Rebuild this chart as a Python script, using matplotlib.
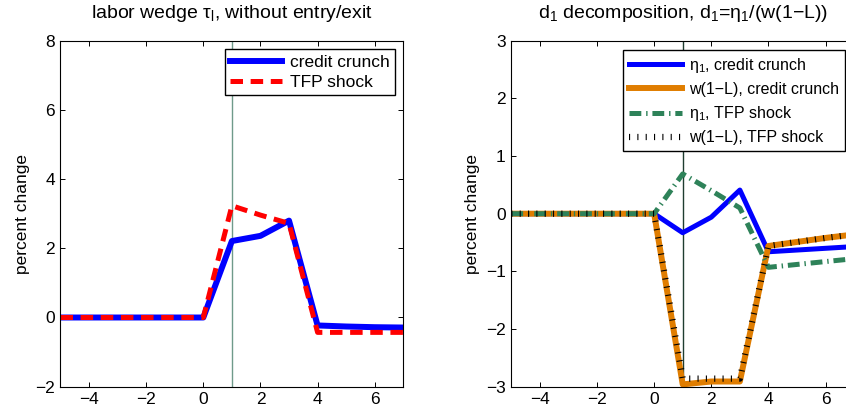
import matplotlib
matplotlib.use('Agg')
import matplotlib.pyplot as plt

plt.rcParams['font.family'] = ['Liberation Sans', 'DejaVu Sans']
plt.rcParams['mathtext.fontset'] = 'custom'
plt.rcParams['mathtext.rm'] = 'Liberation Sans'
plt.rcParams['mathtext.it'] = 'Liberation Sans'
plt.rcParams['mathtext.default'] = 'regular'
plt.rcParams['lines.scale_dashes'] = False

# periods around the shock
t = [-5, -4, -3, -2, -1, 0, 1, 2, 3, 4, 5, 6, 7]

# left panel: labor wedge
tau_cc = [0, 0, 0, 0, 0, 0, 2.21, 2.36, 2.80, -0.23, -0.26, -0.28, -0.29]
tau_tfp = [0, 0, 0, 0, 0, 0, 3.23, 2.96, 2.72, -0.43, -0.43, -0.43, -0.43]

# right panel: d1 decomposition
eta_cc = [0, 0, 0, 0, 0, 0, -0.33, -0.06, 0.41, -0.66, -0.63, -0.60, -0.57]
wl_cc = [0, 0, 0, 0, 0, 0, -2.96, -2.91, -2.91, -0.56, -0.49, -0.42, -0.36]
eta_tfp = [0, 0, 0, 0, 0, 0, 0.69, 0.40, 0.10, -0.93, -0.88, -0.83, -0.78]
wl_tfp = [0, 0, 0, 0, 0, 0, -2.86, -2.86, -2.86, -0.56, -0.49, -0.42, -0.36]

fig = plt.figure(figsize=(8.46, 4.15), dpi=100)
ax1 = fig.add_axes([0.0715, 0.0682, 0.4052, 0.8337])
ax2 = fig.add_axes([0.6044, 0.0682, 0.4052, 0.8337])

FS = 12.5
TS = 14


def style(ax):
    ax.tick_params(direction='in', top=True, right=True, length=3.5,
                   width=0.7, labelsize=FS, pad=4)
    for s in ax.spines.values():
        s.set_linewidth(0.8)
    ax.set_xlim(-5, 7)
    ax.set_xticks([-4, -2, 0, 2, 4, 6])
    ax.set_xticklabels(['\u22124', '\u22122', '0', '2', '4', '6'])


# --- left
ax1.axvline(1, color='#6f9a8a', lw=1)
ax1.plot(t, tau_cc, color='#0000ff', lw=4.3, label='credit crunch')
ax1.plot(t, tau_tfp, color='#ff0000', lw=3.6, dashes=(9, 5.5),
         label='TFP shock')
style(ax1)
ax1.set_ylim(-2, 8)
ax1.set_yticks([-2, 0, 2, 4, 6, 8])
ax1.set_yticklabels(['\u22122', '0', '2', '4', '6', '8'])
ax1.set_ylabel('percent change', fontsize=FS)
ax1.set_title(r'labor wedge $\tau_l$, without entry/exit', fontsize=TS, pad=16)
leg = ax1.legend(loc='upper right', fontsize=12.5, handlelength=3.0,
                 labelspacing=0.3, borderaxespad=0.5, fancybox=False,
                 framealpha=1, edgecolor='black', borderpad=0.3,
                 handletextpad=0.45)
leg.get_frame().set_linewidth(1)

# --- right
ax2.axvline(1, color='#1f3d30', lw=1)
ax2.plot(t, eta_cc, color='#0000ff', lw=3.6, label=r'$\eta_1$, credit crunch')
ax2.plot(t, wl_cc, color='#e07d00', lw=4.3, label='w(1\u2212L), credit crunch')
ax2.plot(t, eta_tfp, color='#2e8259', lw=3.6, dashes=(8.5, 3.5, 1, 3.5),
         solid_capstyle='butt', dash_capstyle='butt', label=r'$\eta_1$, TFP shock')
ax2.plot(t, wl_tfp, color='black', lw=4.5, dashes=(0.8, 5.2),
         dash_capstyle='butt', label='w(1\u2212L), TFP shock')
style(ax2)
ax2.set_ylim(-3, 3)
ax2.set_yticks([-3, -2, -1, 0, 1, 2, 3])
ax2.set_yticklabels(['\u22123', '\u22122', '\u22121', '0', '1', '2', '3'])
ax2.set_ylabel('percent change', fontsize=FS)
ax2.set_title('$d_1$ decomposition, $d_1$=$\\eta_1$/(w(1\u2212L))', fontsize=TS, pad=16)
leg2 = ax2.legend(loc='upper right', fontsize=11.5, handlelength=3.3,
                  labelspacing=0.45, borderaxespad=0.6, fancybox=False,
                  framealpha=1, edgecolor='black', borderpad=0.35,
                  handletextpad=0.45)
leg2.get_frame().set_linewidth(1)

fig.savefig('out.png', dpi=100)
